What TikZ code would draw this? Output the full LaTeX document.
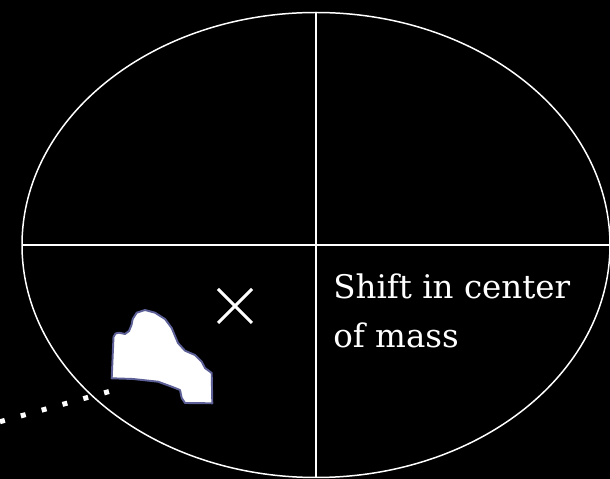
\documentclass[tikz,border=0pt]{standalone}
\usepackage{fontspec}
\setmainfont{DejaVu Serif}
\usetikzlibrary{positioning,calc}
\definecolor{bgblack}{RGB}{0,0,0}
\definecolor{blobedge}{RGB}{92,96,150}
\tikzset{
  axisline/.style={white, line width=0.85pt},
  crossline/.style={white, line width=1.7pt},
  blobfill/.style={fill=white, draw=blobedge, line width=1.1pt, line join=round},
  trail/.style={white, line width=2.85pt, dash pattern=on 2.85pt off 9.45pt},
  shiftlbl/.style={text=white, font=\fontsize{18.5}{28.2}\selectfont, align=left,
                   inner sep=0pt, anchor=base west},
}
\begin{document}
\begin{tikzpicture}[x=0.02cm, y=-0.02cm]
  \fill[bgblack] (0,0) rectangle (610,479);
  \useasboundingbox (0,0) rectangle (610,479);
  % quadrants
  \coordinate (c) at (316,245);
  \draw[axisline] (c) ellipse [x radius=294, y radius=232.5];
  \coordinate (top) at (316,12);
  \coordinate (bot) at (316,477);
  \coordinate (lft) at (22,245);
  \coordinate (rgt) at (610,245);
  \draw[axisline] (top) -- (bot);
  \draw[axisline] (lft) -- (rgt);
  % new centre of mass
  \coordinate (com) at (235,306);
  \draw[crossline] ($(com)+(-17,-17)$) -- ($(com)+(17,17)$);
  \draw[crossline] ($(com)+(-17,17)$) -- ($(com)+(17,-17)$);
  % removed piece
  \draw[blobfill] (111.7,378.3) -- (113.5,337) -- (115.5,333.5) -- (119,332.7) -- (125,334)
    -- (129,331) -- (131.5,325) -- (132.7,319) -- (136.7,312.7) -- (145,310) -- (155,312.7)
    -- (165,319) -- (171.7,328) -- (178,343) -- (185,350.7) -- (195,355) -- (201.7,361.7)
    -- (205,368) -- (211.7,373) -- (212.3,403.3) -- (185,403) -- (181.7,398)
    -- (180,390) -- (171.7,386.7) -- (158,381.7) -- (133,379) -- cycle;
  \coordinate (tstart) at (0,421.7);
  \coordinate (tend) at (111,391);
  \draw[trail] (tstart) -- (tend);
  \node[shiftlbl] (shift) at (333,347.7) {Shift in center\\of mass};
\end{tikzpicture}
\end{document}
